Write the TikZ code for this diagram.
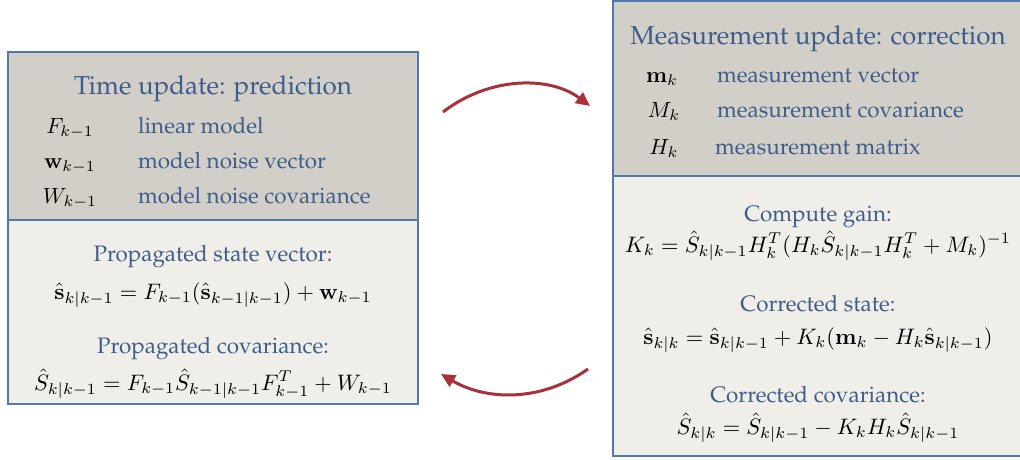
\documentclass[tikz,border=0pt]{standalone}
\usepackage[T1]{fontenc}
\renewcommand{\rmdefault}{ppl}
\usepackage{amsmath}
\usepackage{graphicx}
\usetikzlibrary{arrows.meta}
\definecolor{txtblue}{HTML}{3E5C8A}
\definecolor{edgeblue}{HTML}{5079AE}
\definecolor{topfill}{HTML}{D2CFC9}
\definecolor{botfill}{HTML}{F0EEE9}
\definecolor{arrred}{HTML}{A8323A}
\newcommand{\eqm}[1]{\scalebox{2.24}{$#1$}}
\newcommand{\itm}[1]{\scalebox{2.2}{$#1$}}
\tikzset{
  panel/.style={draw=edgeblue, line width=2pt},
  titletxt/.style={text=txtblue, font=\fontsize{26}{31}\selectfont, inner sep=0pt},
  itemtxt/.style={text=txtblue, font=\fontsize{22.4}{27}\selectfont, inner sep=0pt, anchor=base west},
  itemmath/.style={font=\fontsize{10}{12}\selectfont, inner sep=0pt, anchor=base},
  headtxt/.style={text=txtblue, font=\fontsize{22.4}{27}\selectfont, inner sep=0pt, anchor=base},
  eqtxt/.style={font=\fontsize{10}{12}\selectfont, inner sep=0pt, anchor=base},
  flow/.style={draw=arrred, line width=3pt, -{Triangle[length=14pt,width=13pt]}}
}
\begin{document}
\begin{tikzpicture}[x=1pt,y=-1pt]
\useasboundingbox (0,0) rectangle (1020,460);
% left panel
\fill[topfill] (8,52) rectangle (418,220);
\fill[botfill] (8,220) rectangle (418,404);
\draw[panel] (8,52) rectangle (418,404);
\draw[panel] (8,220) -- (418,220);
% right panel
\fill[topfill] (613,1) rectangle (1030,176);
\fill[botfill] (613,176) rectangle (1030,456);
\draw[panel] (613,1) rectangle (1030,456);
\draw[panel] (613,176) -- (1030,176);

% left texts
\node[titletxt, anchor=base] (lt) at (213,95) {Time update: prediction};
\node[itemmath] (lm1) at (70,133) {\itm{F_{k-1}}};
\node[itemmath] (lm2) at (70,168) {\itm{\mathbf{w}_{k-1}}};
\node[itemmath] (lm3) at (70,203) {\itm{W_{k-1}}};
\node[itemtxt] (li1) at (138,133) {linear model};
\node[itemtxt] (li2) at (138,168) {model noise vector};
\node[itemtxt] (li3) at (138,203) {model noise covariance};
\node[headtxt] (lh1) at (213,261) {Propagated state vector:};
\node[eqtxt] (le1) at (213,299) {\eqm{\hat{\mathbf{s}}_{k|k-1} = F_{k-1}(\hat{\mathbf{s}}_{k-1|k-1}) + \mathbf{w}_{k-1}}};
\node[headtxt] (lh2) at (213,353) {Propagated covariance:};
\node[eqtxt] (le2) at (213,390) {\eqm{\hat{S}_{k|k-1} = F_{k-1}\hat{S}_{k-1|k-1}F_{k-1}^{T} + W_{k-1}}};

% right texts
\node[titletxt, anchor=base] (rt) at (818,45) {Measurement update: correction};
\node[itemmath] (rm1) at (662,82) {\itm{\mathbf{m}_{k}}};
\node[itemmath] (rm2) at (664,117) {\itm{M_{k}}};
\node[itemmath] (rm3) at (664,154) {\itm{H_{k}}};
\node[itemtxt] (ri1) at (717,82) {measurement vector};
\node[itemtxt] (ri2) at (717,117) {measurement covariance};
\node[itemtxt] (ri3) at (715,154) {measurement matrix};
\node[headtxt] (rh1) at (818,221) {Compute gain:};
\node[eqtxt] (re1) at (818,252) {\eqm{K_k = \hat{S}_{k|k-1}H_k^{T}(H_k\hat{S}_{k|k-1}H_k^{T} + M_k)^{-1}}};
\node[headtxt] (rh2) at (818,311) {Corrected state:};
\node[eqtxt] (re2) at (818,344) {\eqm{\hat{\mathbf{s}}_{k|k} = \hat{\mathbf{s}}_{k|k-1} + K_k(\mathbf{m}_k - H_k\hat{\mathbf{s}}_{k|k-1})}};
\node[headtxt] (rh3) at (818,402) {Corrected covariance:};
\node[eqtxt] (re3) at (818,434) {\eqm{\hat{S}_{k|k} = \hat{S}_{k|k-1} - K_kH_k\hat{S}_{k|k-1}}};

% arrows
\coordinate (a1s) at (443,112);
\coordinate (a1e) at (590,106);
\coordinate (a2s) at (588,369);
\coordinate (a2e) at (441,374);
\draw[flow] (a1s) .. controls (490,76) and (550,76) .. (a1e);
\draw[flow] (a2s) .. controls (540,403) and (485,400) .. (a2e);
\end{tikzpicture}
\end{document}
